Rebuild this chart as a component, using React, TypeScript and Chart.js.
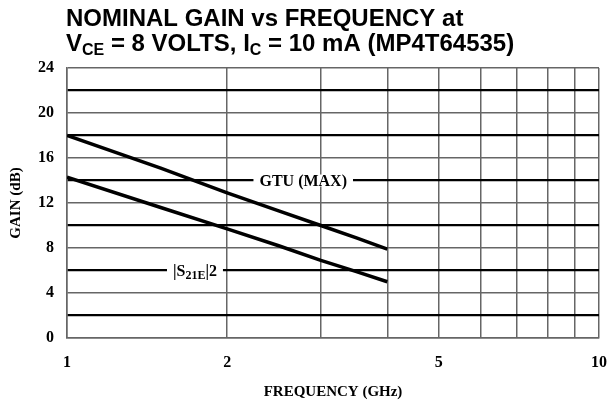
import React, { useEffect, useRef } from "react";
import { Chart, registerables } from "chart.js";

Chart.register(...registerables);

// ---- data ----
const FREQ_GHZ = [1, 1.5, 2, 2.5, 3, 3.5, 4];
const GTU_MAX_DB = [18, 15.1, 12.9, 11.3, 10.0, 8.9, 7.9];
const S21E_DB = [14.3, 11.6, 9.7, 8.2, 6.9, 5.9, 5.0];
const X_GRID = [1, 2, 3, 4, 5, 6, 7, 8, 9, 10];
const X_TICK_LABELS = [1, 2, 5, 10];
const Y_TICK_LABELS = [0, 4, 8, 12, 16, 20, 24];

type Run = { t: string; sub?: boolean };
const TITLE_LINE_1: Run[] = [{ t: "NOMINAL GAIN vs FREQUENCY at" }];
const TITLE_LINE_2: Run[] = [
  { t: "V" },
  { t: "CE", sub: true },
  { t: " = 8 VOLTS, I" },
  { t: "C", sub: true },
  { t: " = 10 mA (MP4T64535)" },
];
const GTU_LABEL = { x: 2.78, y: 14, runs: [{ t: "GTU (MAX)" }] as Run[] };
const S21_LABEL = {
  x: 1.74,
  y: 6,
  runs: [{ t: "|S" }, { t: "21E", sub: true }, { t: "|2" }] as Run[],
};

const SERIF = "'Liberation Serif', 'Times New Roman', serif";
const SANS = "'Liberation Sans', Arial, Helvetica, sans-serif";

function runsWidth(ctx: CanvasRenderingContext2D, runs: Run[], font: string, subFont: string) {
  let w = 0;
  for (const r of runs) {
    ctx.font = r.sub ? subFont : font;
    w += ctx.measureText(r.t).width;
  }
  return w;
}

function drawRuns(
  ctx: CanvasRenderingContext2D,
  runs: Run[],
  x: number,
  y: number,
  font: string,
  subFont: string,
  subShift: number
) {
  let cx = x;
  ctx.textAlign = "left";
  ctx.textBaseline = "alphabetic";
  for (const r of runs) {
    ctx.font = r.sub ? subFont : font;
    ctx.fillText(r.t, cx, r.sub ? y + subShift : y);
    cx += ctx.measureText(r.t).width;
  }
}

const textPlugin = {
  id: "textPlugin",
  afterDatasetsDraw(chart: any) {
    const ctx: CanvasRenderingContext2D = chart.ctx;
    const xs = chart.scales.x;
    const ys = chart.scales.y;
    ctx.save();
    // in-plot labels
    const lf = `bold 16px ${SERIF}`;
    const lsf = `bold 12px ${SERIF}`;
    for (const lab of [GTU_LABEL, S21_LABEL]) {
      const px = xs.getPixelForValue(lab.x);
      const py = ys.getPixelForValue(lab.y);
      const w = runsWidth(ctx, lab.runs, lf, lsf);
      ctx.fillStyle = "#fff";
      ctx.fillRect(px - w / 2 - 6, py - 6, w + 12, 12);
      ctx.fillStyle = "#000";
      drawRuns(ctx, lab.runs, px - w / 2, py + 5.5, lf, lsf, 3);
    }
    // title
    const tf = `bold 24px ${SANS}`;
    const tsf = `bold 16px ${SANS}`;
    ctx.fillStyle = "#000";
    drawRuns(ctx, TITLE_LINE_1, 66, 26, tf, tsf, 4);
    drawRuns(ctx, TITLE_LINE_2, 66, 51, tf, tsf, 4);
    ctx.restore();
  },
};

export default function App() {
  const ref = useRef<HTMLCanvasElement | null>(null);
  useEffect(() => {
    document.body.style.margin = "0";
    const canvas = ref.current!;
    const tickFont = { family: SERIF, size: 16, weight: "bold" as const };
    const chart = new Chart(canvas, {
      type: "line",
      data: {
        datasets: [
          {
            label: "GTU (MAX)",
            data: FREQ_GHZ.map((f, i) => ({ x: f, y: GTU_MAX_DB[i] })),
            borderColor: "#000",
            borderWidth: 3.5,
            pointRadius: 0,
            tension: 0,
          },
          {
            label: "|S21E|2",
            data: FREQ_GHZ.map((f, i) => ({ x: f, y: S21E_DB[i] })),
            borderColor: "#000",
            borderWidth: 3.5,
            pointRadius: 0,
            tension: 0,
          },
        ],
      },
      options: {
        animation: false,
        responsive: false,
        devicePixelRatio: 1,
        layout: { padding: { top: 68, right: 11, left: 0, bottom: 0 } },
        plugins: {
          legend: { display: false },
          tooltip: { enabled: false },
          title: { display: false },
        },
        scales: {
          x: {
            type: "logarithmic",
            min: 1,
            max: 10,
            afterBuildTicks: (s: any) => {
              s.ticks = X_GRID.map((v) => ({ value: v }));
            },
            afterFit: (s: any) => {
              s.height = 64;
              s.paddingLeft = 0;
              s.paddingRight = 0;
            },
            grid: { color: "#666", lineWidth: 1.5, drawTicks: false },
            border: { color: "#666", width: 1.5 },
            ticks: {
              autoSkip: false,
              maxRotation: 0,
              padding: 15,
              color: "#000",
              font: tickFont,
              callback: (v: any) => (X_TICK_LABELS.includes(Number(v)) ? String(v) : ""),
            },
            title: {
              display: true,
              text: "FREQUENCY (GHz)",
              color: "#000",
              font: { family: SERIF, size: 15, weight: "bold" as const },
              padding: { top: 0, bottom: 1 },
            },
          },
          y: {
            min: 0,
            max: 24,
            afterFit: (s: any) => {
              s.width = 67;
              s.paddingTop = 0;
              s.paddingBottom = 0;
            },
            grid: {
              drawTicks: false,
              color: (c: any) => (c.tick && c.tick.value % 4 === 2 ? "#000" : "#666"),
              lineWidth: (c: any) => (c.tick && c.tick.value % 4 === 2 ? 2.2 : 1.5),
            },
            border: { color: "#666", width: 1.5 },
            ticks: {
              stepSize: 2,
              padding: 13,
              color: "#000",
              font: tickFont,
              callback: (v: any) => (Y_TICK_LABELS.includes(Number(v)) ? String(v) : ""),
            },
            title: {
              display: true,
              text: "GAIN (dB)",
              color: "#000",
              font: { family: SERIF, size: 15, weight: "bold" as const },
              padding: { top: 7, bottom: 0 },
            },
          },
        },
      },
      plugins: [textPlugin],
    });
    return () => chart.destroy();
  }, []);
  return (
    <div style={{ position: "fixed", left: 0, top: 0, width: 610, height: 402, background: "#fff" }}>
      <canvas ref={ref} width={610} height={402} style={{ width: 610, height: 402, display: "block" }} />
    </div>
  );
}
